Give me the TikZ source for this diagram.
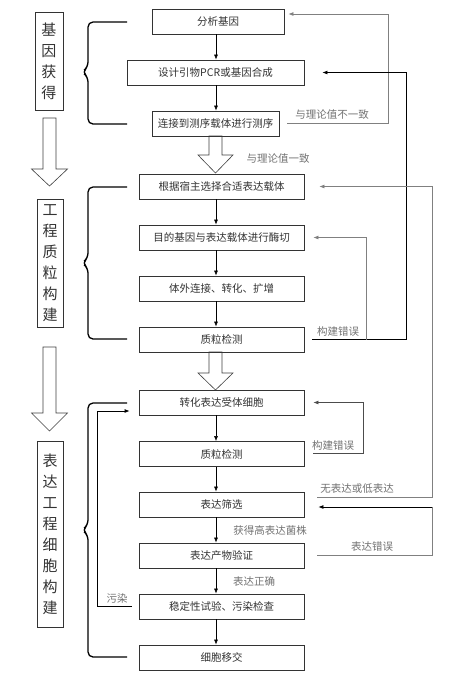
\documentclass[tikz,border=0pt]{standalone}
\usepackage{fontspec}
\setmainfont{Noto Sans CJK SC}
\usetikzlibrary{arrows.meta}

\begin{document}
\begin{tikzpicture}[x=1pt,y=-1pt,
  box/.style={draw=black!80,line width=0.8pt,minimum height=25pt,inner sep=0pt,font=\fontsize{10.5}{12}\selectfont,text=black!80},
  side/.style={draw=black!80,line width=0.8pt,inner ysep=0pt,text width=15pt,align=center,font=\fontsize{15}{21}\selectfont,text=black!80},
  note/.style={font=\fontsize{10.5}{12}\selectfont,text=black!55},
  flow/.style={-{Latex[length=5pt,width=4pt]},line width=0.6pt},
  back/.style={-{Latex[length=5pt,width=4pt]},line width=0.8pt}]
  \fill[white] (0,0) rectangle (471,681);

  % left column
  \node[side,inner xsep=6.5pt,minimum height=98pt] (s1) at (49,61) {基\\因\\获\\得};
  \node[side,inner xsep=5.5pt,minimum height=128pt] (s2) at (50,263) {工\\程\\质\\粒\\构\\建};
  \node[side,inner xsep=5.5pt,minimum height=186pt] (s3) at (50,534) {表\\达\\工\\程\\细\\胞\\构\\建};

  % hollow arrows
  \foreach \cx/\ya/\yb/\yc/\hw in {49.5/118/169/186/18, 49.5/347/413/431/18, 215.5/136/155/173/17.5, 215.5/352/373/390/17.5}
    \draw[black!75,line width=0.6pt,fill=white] (\cx-6.5,\ya) -- (\cx-6.5,\yb) -- (\cx-\hw,\yb) -- (\cx,\yc) -- (\cx+\hw,\yb) -- (\cx+6.5,\yb) -- (\cx+6.5,\ya) -- cycle;

  % braces
  \foreach \ya/\ym/\yb in {22/72/124, 187/263/339, 403/530/657}
    \draw[line width=1.3pt,rounded corners=5pt] (127,\ya) -- (88,\ya) -- (88,\ym-5) -- (82,\ym) -- (88,\ym+5) -- (88,\yb) -- (127,\yb);

  % steps
  \node[box,minimum width=132pt] (b1) at (218,21.5) {分析基因};
  \node[box,minimum width=177pt] (b2) at (215.5,72.5) {设计引物PCR或基因合成};
  \node[box,minimum width=127pt] (b3) at (215.5,123.5) {连接到测序载体进行测序};
  \node[box,minimum width=165pt] (b4) at (221.5,186.5) {根据宿主选择合适表达载体};
  \node[box,minimum width=165pt] (b5) at (221.5,237.5) {目的基因与表达载体进行酶切};
  \node[box,minimum width=165pt] (b6) at (221.5,288.5) {体外连接、转化、扩增};
  \node[box,minimum width=165pt] (b7) at (221.5,339.5) {质粒检测};
  \node[box,minimum width=165pt] (b8) at (221.5,402.5) {转化表达受体细胞};
  \node[box,minimum width=165pt] (b9) at (221.5,454) {质粒检测};
  \node[box,minimum width=165pt] (b10) at (221.5,504.5) {表达筛选};
  \node[box,minimum width=165pt] (b11) at (221.5,555.5) {表达产物验证};
  \node[box,minimum width=165pt] (b12) at (221.5,606.5) {稳定性试验、污染检查};
  \node[box,minimum width=165pt] (b13) at (221.5,657.5) {细胞移交};

  \coordinate (ax) at (216,0);
  \foreach \a/\b in {b1/b2,b2/b3,b4/b5,b5/b6,b6/b7,b8/b9,b9/b10,b10/b11,b11/b12,b12/b13}
    \draw[flow] (\a.south -| ax) -- (\b.north -| ax);

  % feedback
  \draw[back,gray] ([xshift=8pt]b3.east) -- ++(101,0) |- ([xshift=4pt,yshift=7.5pt]b1.east);
  \draw[back] ([xshift=8pt]b7.east) -- ++(94,0) |- ([xshift=18pt]b2.east);
  \draw[back,gray] ([xshift=62pt]b7.east) |- ([xshift=9pt]b5.east);
  \draw[back,black!70] ([xshift=9pt,yshift=1pt]b9.east) -- ++(50,0) |- ([xshift=9pt]b8.east);
  \draw[back,gray] ([xshift=13pt,yshift=7.5pt]b10.east) -- ++(115,0) |- ([xshift=15pt]b4.east);
  \draw[gray,line width=0.8pt] ([xshift=13pt]b11.east) -- ++(115,0) |- ([xshift=128pt,yshift=-2.5pt]b10.east) coordinate (f6);
  \draw[back] (f6) -- ([xshift=14pt,yshift=-2.5pt]b10.east);
  \draw[back] ([xshift=-7pt]b12.west) -- ++(-34,0) |- ([xshift=-9pt,yshift=-8.5pt]b8.west);

  % labels
  \node[note] (n1) at (332,115) {与理论值不一致};
  \node[note] (n2) at (278,158) {与理论值一致};
  \node[note] (n3) at (338,332) {构建错误};
  \node[note] (n4) at (333,446) {构建错误};
  \node[note] (n5) at (357,489) {无表达或低表达};
  \node[note] (n6) at (270,530) {获得高表达菌株};
  \node[note] (n7) at (372,547) {表达错误};
  \node[note] (n8) at (254,581) {表达正确};
  \node[note] (n9) at (117,598) {污染};
\end{tikzpicture}
\end{document}
